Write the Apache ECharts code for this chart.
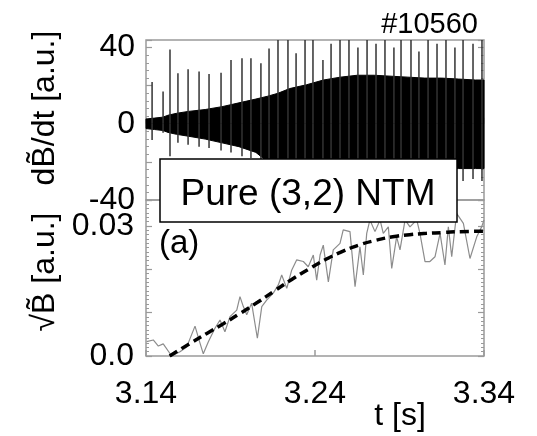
<!DOCTYPE html>
<html>
<head>
<meta charset="utf-8">
<script src="https://cdn.jsdelivr.net/npm/echarts@6/dist/echarts.min.js"></script>
<style>
html,body{margin:0;padding:0;background:#fff;}
#c{width:537px;height:436px;}
</style>
</head>
<body>
<div id="c"></div>
<script>
// ---- data ----
// time axis labels
const xTickLabels = [3.14, 3.24, 3.34];
const upperTickLabels = [-40, 0, 40];
const lowerTickLabels = [0, 0.03];

// dB/dt envelope (upper and lower edge of the dense oscillation)
const envT     = [3.140, 3.145, 3.150, 3.153, 3.158, 3.165, 3.175, 3.185, 3.195, 3.205, 3.212, 3.218, 3.225, 3.235, 3.245, 3.255, 3.265, 3.275, 3.285, 3.295, 3.305, 3.315, 3.325, 3.335, 3.340];
const envUpper = [2.5, 3, 3.5, 4.5, 5.5, 6.5, 7.5, 9, 11, 13, 14.5, 16, 18.5, 20.5, 23, 24.5, 25.5, 25.5, 25, 24.5, 24, 24, 23.5, 23, 23];
const envLower = [-2.5, -3, -3.5, -4.5, -5.5, -6.5, -8, -10, -12, -15, -20, -21, -22, -22, -22.5, -23, -23, -23, -23.5, -23.5, -23.5, -23.5, -23.5, -23.5, -23.5];

// periodic spikes in dB/dt
const spikeT    = [3.1436, 3.1501, 3.1542, 3.1589, 3.1649, 3.1714, 3.1773, 3.1844, 3.1903, 3.1968, 3.2021, 3.2080, 3.2128, 3.2181, 3.2240, 3.2288, 3.2341, 3.2388, 3.2447, 3.2495, 3.2548, 3.2601, 3.2654, 3.2708, 3.2761, 3.2814, 3.2867, 3.2909, 3.2968, 3.3015, 3.3069, 3.3122, 3.3175, 3.3228, 3.3276, 3.3335, 3.3388];
const spikeUp   = [22, 17, 39, 26.5, 28.6, 27.4, 26.2, 26.8, 33.5, 34.4, 34.4, 31.8, 39.6, 44, 44, 37, 44, 44, 33.5, 42, 44, 44, 40, 44, 42, 44, 40, 44, 44, 38, 44, 42, 44, 40, 44, 42, 44];
const spikeDown = [-8.5, -4.7, -17, -10, -11, -12, -12.7, -14, -15, -17, -18, -26, -26, -27, -27, -28, -28, -28, -28, -28, -28, -28, -28, -28, -28, -28, -28, -28, -28, -28, -28, -28, -29, -29, -30, -29, -30];

// sqrt(B) measured (grey) and fitted (dashed)
const measT = [3.1404, 3.1443, 3.1473, 3.1502, 3.1552, 3.1601, 3.1641, 3.1690, 3.1720, 3.1739, 3.1769, 3.1808, 3.1838, 3.1867, 3.1897, 3.1937, 3.1956, 3.1976, 3.1996, 3.2025, 3.2059, 3.2085, 3.2114, 3.2153, 3.2183, 3.2203, 3.2233, 3.2262, 3.2292, 3.2331, 3.2360, 3.2390, 3.2410, 3.2430, 3.2449, 3.2479, 3.2508, 3.2548, 3.2567, 3.2607, 3.2637, 3.2666, 3.2686, 3.2706, 3.2725, 3.2755, 3.2785, 3.2804, 3.2834, 3.2854, 3.2883, 3.2903, 3.2933, 3.2962, 3.3002, 3.3021, 3.3051, 3.3080, 3.3110, 3.3140, 3.3169, 3.3189, 3.3209, 3.3238, 3.3278, 3.3317, 3.3357, 3.3386, 3.3400];
const measV = [0.0033, 0.0037, 0.0023, 0.0028, 0.0000, 0.0010, 0.0021, 0.0069, 0.0029, 0.0005, 0.0033, 0.0064, 0.0083, 0.0056, 0.0091, 0.0106, 0.0137, 0.0114, 0.0095, 0.0122, 0.0041, 0.0114, 0.0129, 0.0145, 0.0164, 0.0187, 0.0156, 0.0198, 0.0222, 0.0218, 0.0206, 0.0233, 0.0175, 0.0233, 0.0256, 0.0171, 0.0245, 0.0260, 0.0291, 0.0287, 0.0160, 0.0252, 0.0187, 0.0283, 0.0314, 0.0287, 0.0314, 0.0283, 0.0298, 0.0202, 0.0275, 0.0245, 0.0314, 0.0298, 0.0314, 0.0283, 0.0218, 0.0218, 0.0229, 0.0283, 0.0210, 0.0298, 0.0229, 0.0329, 0.0306, 0.0225, 0.0275, 0.0298, 0.0314];
const fitT = [3.154, 3.166, 3.176, 3.186, 3.196, 3.206, 3.216, 3.226, 3.236, 3.246, 3.256, 3.266, 3.276, 3.286, 3.296, 3.306, 3.316, 3.326, 3.340];
const fitV = [0, 0.0029, 0.0052, 0.0075, 0.0099, 0.0124, 0.0150, 0.0176, 0.0200, 0.0222, 0.0241, 0.0256, 0.0267, 0.0275, 0.0280, 0.0283, 0.0285, 0.0287, 0.0288];

// ---- build ----
const zip = (a, b) => a.map((v, i) => [v, b[i]]);
const FONT = 'Liberation Sans, Arial, sans-serif';
const AX = '#9a9a9a';

const chart = echarts.init(document.getElementById('c'), null, {renderer: 'canvas'});

const xBase = {
  type: 'value', min: 3.14, max: 3.34,
  axisLine: {show: false}, splitLine: {show: false},
  axisTick: {inside: true, length: 6, lineStyle: {color: AX, width: 1.5}, customValues: xTickLabels},
  axisLabel: {show: false}
};

// envelope band: polygon through upper edge then back along lower edge, mapped by the axes
function renderEnvelope(params, api) {
  const up = envT.map((t, i) => api.coord([t, envUpper[i]]));
  const lo = envT.map((t, i) => api.coord([t, envLower[i]])).reverse();
  return {
    type: 'polygon',
    shape: {points: up.concat(lo)},
    style: {fill: '#000', stroke: '#000', lineWidth: 1}
  };
}

const option = {
  animation: false,
  backgroundColor: '#fff',
  grid: [
    {left: 146, right: 53, top: 40, height: 160, show: true, borderColor: AX, borderWidth: 1.5, backgroundColor: 'transparent'},
    {left: 146, right: 53, top: 200, height: 156, show: true, borderColor: AX, borderWidth: 1.5, backgroundColor: 'transparent'}
  ],
  xAxis: [
    Object.assign({}, xBase, {gridIndex: 0}),
    Object.assign({}, xBase, {
      gridIndex: 1,
      axisLabel: {
        show: true, customValues: xTickLabels, margin: 22,
        color: '#000', fontSize: 32, fontFamily: FONT,
        formatter: v => v.toFixed(2)
      }
    })
  ],
  yAxis: [
    {
      gridIndex: 0, type: 'value', min: -40, max: 44, interval: 20,
      axisLine: {show: false}, splitLine: {show: false},
      axisTick: {inside: true, length: 6, lineStyle: {color: AX, width: 1.2}},
      minorTick: {show: true, splitNumber: 5, length: 3, lineStyle: {color: AX}},
      axisLabel: {customValues: upperTickLabels, color: '#000', fontSize: 32, fontFamily: FONT, margin: 11}
    },
    {
      gridIndex: 1, type: 'value', min: 0, max: 0.036, interval: 0.01,
      axisLine: {show: false}, splitLine: {show: false},
      axisTick: {inside: true, length: 6, lineStyle: {color: AX, width: 1.2}},
      minorTick: {show: true, splitNumber: 10, length: 3, lineStyle: {color: AX}},
      axisLabel: {customValues: lowerTickLabels, color: '#000', fontSize: 32, fontFamily: FONT, margin: 12,
        formatter: v => (v === 0 ? '0.0' : v.toFixed(2))}
    },
    {
      gridIndex: 0, type: 'value', min: -40, max: 44, interval: 20, position: 'right',
      axisLine: {show: false}, splitLine: {show: false}, axisLabel: {show: false},
      axisTick: {inside: true, length: 6, lineStyle: {color: AX, width: 1.2}},
      minorTick: {show: true, splitNumber: 5, length: 3, lineStyle: {color: AX}}
    },
    {
      gridIndex: 1, type: 'value', min: 0, max: 0.036, interval: 0.01, position: 'right',
      axisLine: {show: false}, splitLine: {show: false}, axisLabel: {show: false},
      axisTick: {inside: true, length: 6, lineStyle: {color: AX, width: 1.2}},
      minorTick: {show: true, splitNumber: 10, length: 3, lineStyle: {color: AX}}
    }
  ],
  series: [
    {
      type: 'bar', xAxisIndex: 0, yAxisIndex: 0, data: zip(spikeT, spikeUp),
      barWidth: 1.5, barGap: '-100%', itemStyle: {color: '#333'}, silent: true
    },
    {
      type: 'bar', xAxisIndex: 0, yAxisIndex: 0, data: zip(spikeT, spikeDown),
      barWidth: 1.5, barGap: '-100%', itemStyle: {color: '#333'}, silent: true
    },
    {
      type: 'custom', xAxisIndex: 0, yAxisIndex: 0, data: [[envT[0], envUpper[0]]],
      renderItem: renderEnvelope, silent: true
    },
    {
      type: 'line', xAxisIndex: 1, yAxisIndex: 1, data: zip(measT, measV),
      showSymbol: false, lineStyle: {color: '#8c8c8c', width: 1.2}
    },
    {
      type: 'line', xAxisIndex: 1, yAxisIndex: 1, data: zip(fitT, fitV), smooth: true,
      showSymbol: false, lineStyle: {color: '#000', width: 3.5, type: [9, 5]}
    }
  ],
  graphic: [
    {type: 'rect', z: 100, shape: {x: 160, y: 159, width: 297, height: 63},
      style: {fill: '#fff', stroke: '#000', lineWidth: 1.5}},
    {type: 'text', z: 101, x: 308, y: 195,
      style: {text: 'Pure (3,2) NTM', align: 'center', verticalAlign: 'middle', font: '37px ' + FONT, fill: '#000'}},
    {type: 'text', z: 101, x: 159, y: 244,
      style: {text: '(a)', align: 'left', verticalAlign: 'middle', font: '33px ' + FONT, fill: '#000'}},
    {type: 'text', z: 101, x: 478, y: 25,
      style: {text: '#10560', align: 'right', verticalAlign: 'middle', font: '29px ' + FONT, fill: '#000'}},
    {type: 'text', z: 101, x: 400, y: 416,
      style: {text: 't [s]', align: 'center', verticalAlign: 'middle', font: '32px ' + FONT, fill: '#000'}},
    {type: 'text', z: 101, x: 45, y: 108, rotation: Math.PI / 2,
      style: {text: 'dB\u0303/dt [a.u.]', align: 'center', verticalAlign: 'middle', font: '32px ' + FONT, fill: '#000'}},
    {type: 'text', z: 101, x: 45, y: 272, rotation: Math.PI / 2,
      style: {text: '\u221AB\u0303 [a.u.]', align: 'center', verticalAlign: 'middle', font: '32px ' + FONT, fill: '#000'}}
  ]
};
chart.setOption(option);
</script>
</body>
</html>
